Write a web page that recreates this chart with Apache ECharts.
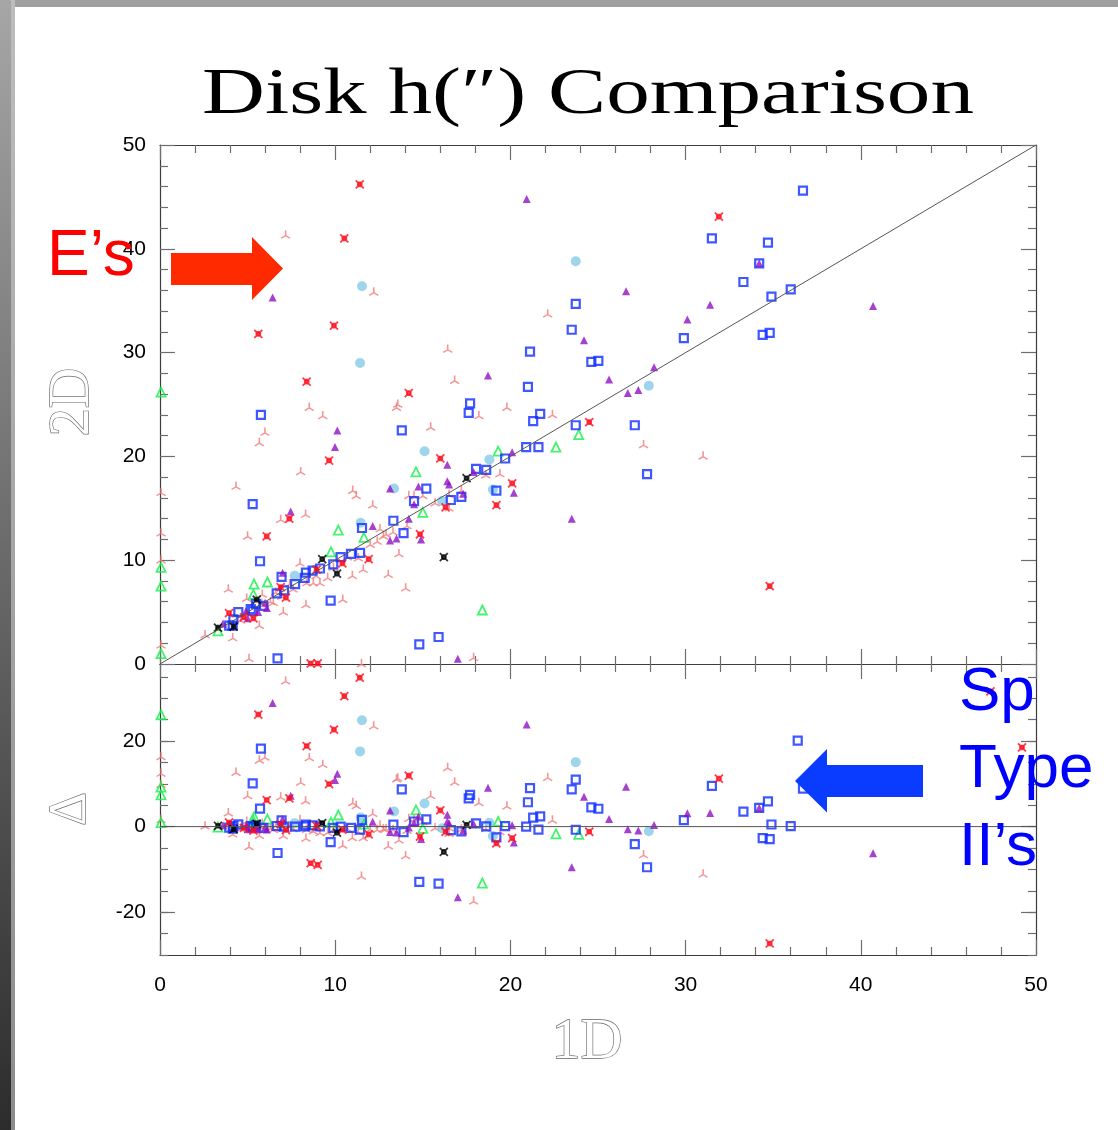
<!DOCTYPE html>
<html>
<head>
<meta charset="utf-8">
<style>
  html, body { margin: 0; padding: 0; background: #ffffff; }
  #chart { width: 1118px; height: 1130px; }
</style>
<script src="https://cdn.jsdelivr.net/npm/echarts@6/dist/echarts.min.js"></script>
</head>
<body>
<div id="chart"></div>
<script>
// ---- data: [1D scale length, 2D scale length] in arcsec, one array per sample ----
const pinkPts = [
  [7.17,41.4],[12.2,35.9],[8.52,24.8],[13.57,25.1],[13.5,24.8],[9.29,24.0],[5.99,22.4],[5.67,21.4],
  [8.03,18.6],[4.34,17.2],[0.06,16.6],[11.0,16.8],[11.2,16.3],[14.2,16.3],[12.14,15.4],[8.31,14.5],
  [6.89,14.0],[0.06,12.7],[5.0,12.4],[0.06,10.1],[13.64,10.7],[13.03,8.7],[14.02,7.4],[11.32,10.3],
  [11.6,9.2],[7.99,9.8],[8.37,7.9],[8.75,7.9],[9.13,7.9],[9.57,8.4],[10.98,8.6],[12.56,13.1],
  [12.75,12.4],[12.4,11.9],[3.9,7.3],[4.95,6.4],[5.84,6.8],[6.95,6.6],[6.47,6.0],[7.04,5.1],
  [8.33,5.8],[10.43,6.3],[5.67,3.8],[2.57,2.9],[4.15,2.6],[0.06,1.9],[5.08,0.6],[11.5,0.1],
  [16.42,30.4],[22.13,33.8],[16.82,27.4],[19.8,24.8],[18.2,24.0],[22.4,24.1],[15.45,22.9],[27.6,21.2],
  [31.0,20.1],[19.4,18.4],[14.5,16.3],[15.0,16.3],[16.5,16.4],[16.5,15.1],[14.1,13.4],[17.9,0.7],
  [4.6,4.3],[5.8,5.9],[6.3,6.1],[7.6,7.3],[8.9,8.6],[9.9,9.4],[10.7,10.4],[12.0,11.6],
  [12.9,12.6],[13.3,12.8],[15.7,15.6],[17.2,16.8],[18.6,18.3],[6.6,7.0],[7.4,7.8]
];
const skyPts = [
  [11.53,36.4],[11.42,29.0],[13.36,16.9],[11.45,13.6],[7.69,8.5],[23.73,38.8],[27.9,26.8],
  [15.1,20.5],[18.8,19.7],[19.0,16.8],[16.1,15.7]
];
const greenPts = [
  [0.06,26.2],[14.61,18.5],[10.18,12.9],[11.64,12.2],[9.76,10.8],[5.37,7.7],[6.13,7.9],[5.33,6.7],
  [3.31,3.2],[0.06,9.3],[0.06,7.5],[0.06,1.0],[23.9,22.1],[22.6,20.9],[19.3,20.5],[15.0,14.6],[18.4,5.2]
];
const bluePts = [
  [5.76,24.0],[13.8,22.5],[14.5,15.7],[5.29,15.4],[11.53,13.1],[13.32,13.8],[13.9,12.6],[10.31,10.3],
  [10.9,10.6],[11.42,10.7],[9.89,9.6],[9.13,9.2],[8.71,9.0],[8.33,8.8],[8.26,8.3],[7.71,7.7],
  [5.71,9.9],[6.94,8.4],[7.08,7.1],[6.66,6.8],[9.74,6.1],[5.48,5.8],[5.9,5.6],[5.18,5.3],
  [5.3,5.1],[4.47,5.0],[4.19,4.3],[3.95,3.7],[4.15,3.7],[6.71,0.55],[14.8,1.9],[15.9,2.6],
  [31.5,41.0],[23.73,34.7],[23.5,32.2],[29.9,31.4],[21.12,30.1],[24.62,29.1],[25.02,29.2],[21.0,26.7],
  [17.7,25.1],[17.62,24.2],[21.3,23.4],[21.7,24.1],[23.73,23.0],[27.1,23.0],[20.9,20.9],[21.6,20.9],
  [19.7,19.8],[18.04,18.8],[18.62,18.7],[15.2,16.9],[19.2,16.7],[16.6,15.8],[17.2,16.1],[27.8,18.3],
  [36.7,45.6],[34.7,40.6],[34.2,38.6],[33.3,36.8],[36.0,36.1],[34.9,35.4],[34.4,31.7],[34.8,31.9],
  [36.4,56.5]
];
const purplePts = [
  [6.43,35.3],[10.12,22.5],[9.99,20.9],[13.13,16.9],[14.75,17.1],[7.46,14.7],[12.14,13.3],[13.13,11.9],
  [13.5,12.1],[7.0,8.8],[6.0,5.9],[6.1,5.4],[5.6,5.0],[4.91,5.1],[5.0,4.4],[3.6,3.9],
  [20.93,44.8],[26.6,35.9],[31.4,34.6],[30.1,33.2],[24.2,31.2],[25.63,27.4],[18.72,27.8],[28.2,28.6],
  [26.7,26.1],[27.3,26.4],[20.1,20.4],[16.4,19.2],[17.9,18.5],[16.4,17.6],[16.5,17.3],[17.3,16.4],
  [20.2,16.5],[14.5,15.4],[23.5,14.0],[14.2,14.0],[14.9,12.0],[17.0,0.5],[34.2,38.6],[40.7,34.5]
];
const redPts = [
  [11.4,46.2],[10.52,41.0],[9.93,32.6],[5.61,31.8],[8.37,27.2],[14.2,26.1],[9.65,19.6],[7.38,14.0],
  [6.09,12.3],[14.84,12.5],[11.91,10.1],[10.41,9.7],[8.94,9.1],[6.89,7.4],[7.19,6.4],[3.94,4.9],
  [4.79,4.5],[5.33,4.4],[8.6,0.05],[9.0,0.05],[16.0,19.8],[20.1,17.4],[16.3,15.1],[19.2,15.3],
  [24.5,23.3],[31.9,43.1],[34.8,7.5],[47.4,79.0],[49.2,67.7]
];
const blackPts = [
  [9.26,10.1],[10.1,8.7],[5.52,6.2],[4.2,3.6],[3.31,3.5],[17.5,17.9],[16.2,10.3]
];

// axis ticks of the residual panel
const deltaTicks = [-20, 0, 20];
const deltaMinorTicks = [-30, -25, -20, -15, -10, -5, 0, 5, 10, 15, 20, 25, 30, 35];
// one-to-one reference line and zero-residual line
const unityLine = [[0, 0], [50, 50]];
const zeroLine = [[0, 0], [50, 0]];

// residual: 2D minus 1D, plotted against 1D
const toDelta = pts => pts.map(p => [p[0], +(p[1] - p[0]).toFixed(2)]);

const chart = echarts.init(document.getElementById('chart'), null, { renderer: 'canvas' });

const frameColor = '#3c3c3c';
const tickColor = '#6e6e6e';
const labelFont = { color: '#000', fontFamily: 'Liberation Sans', fontSize: 21 };

function xAxis(grid, pos, withLabels) {
  return {
    type: 'value', gridIndex: grid, position: pos, min: 0, max: 50, interval: 10,
    axisLine: { show: true, onZero: false, lineStyle: { color: frameColor, width: 1.2 } },
    axisTick: { show: true, inside: true, length: 15, lineStyle: { color: tickColor, width: 1.2 } },
    minorTick: { show: true, splitNumber: 5, length: 8, lineStyle: { color: tickColor, width: 1.2 } },
    splitLine: { show: false }, minorSplitLine: { show: false },
    axisLabel: Object.assign({ show: withLabels, margin: 20 }, labelFont)
  };
}
function topY(pos, withLabels) {
  return {
    type: 'value', gridIndex: 0, position: pos, min: 0, max: 50, interval: 10,
    axisLine: { show: true, onZero: false, lineStyle: { color: frameColor, width: 1.2 } },
    axisTick: { show: true, inside: true, length: 15, lineStyle: { color: tickColor, width: 1.2 } },
    minorTick: { show: true, splitNumber: 5, length: 8, lineStyle: { color: tickColor, width: 1.2 } },
    splitLine: { show: false }, minorSplitLine: { show: false },
    axisLabel: Object.assign({ show: withLabels, margin: 14, padding: [6, 0, 0, 0] }, labelFont)
  };
}
function deltaY(pos, major, withLabels) {
  return {
    type: 'value', gridIndex: 1, position: pos, min: -30, max: 38,
    axisLine: { show: major, onZero: false, lineStyle: { color: frameColor, width: 1.2 } },
    axisTick: {
      show: true, inside: true, length: major ? 15 : 8,
      customValues: major ? deltaTicks : deltaMinorTicks,
      lineStyle: { color: tickColor, width: 1.2 }
    },
    splitLine: { show: false },
    axisLabel: Object.assign({ show: withLabels, margin: 14, padding: [6, 0, 0, 0], customValues: deltaTicks }, labelFont)
  };
}

const tripod = 'path://M0,-10 L0,0 M0,0 L-8.66,5 M0,0 L8.66,5';
const crossBox = 'path://M0,0 L3,3 M10,0 L7,3 M0,10 L3,7 M10,10 L7,7 M2.6,2.6 L7.4,2.6 L7.4,7.4 L2.6,7.4 Z';

const groups = [
  { pts: pinkPts, symbol: tripod, size: [9, 8], style: { color: 'rgba(0,0,0,0)', borderColor: '#f07c7a', borderWidth: 1.5 } },
  { pts: skyPts, symbol: 'circle', size: 10, style: { color: '#86cbe8' } },
  { pts: greenPts, symbol: 'triangle', size: 9, style: { color: 'rgba(0,0,0,0)', borderColor: '#14f048', borderWidth: 1.8 } },
  { pts: bluePts, symbol: 'rect', size: 8, style: { color: 'rgba(0,0,0,0)', borderColor: '#0f2dff', borderWidth: 2.2 } },
  { pts: purplePts, symbol: 'triangle', size: 8, style: { color: '#9010c4' } },
  { pts: redPts, symbol: crossBox, size: 8, style: { color: '#ff0a1a', borderColor: '#ff0a1a', borderWidth: 1.8 } },
  { pts: blackPts, symbol: crossBox, size: 8, style: { color: '#000000', borderColor: '#000000', borderWidth: 1.8 } }
];

const series = [
  { type: 'line', xAxisIndex: 0, yAxisIndex: 0, data: unityLine, symbol: 'none', silent: true,
    lineStyle: { color: '#555', width: 1 } },
  { type: 'line', xAxisIndex: 2, yAxisIndex: 2, data: zeroLine, symbol: 'none', silent: true,
    lineStyle: { color: '#555', width: 1 } }
];
groups.forEach(g => {
  series.push({ type: 'scatter', xAxisIndex: 0, yAxisIndex: 0, data: g.pts, symbol: g.symbol,
    symbolSize: g.size, itemStyle: g.style, silent: true, emphasis: { disabled: true } });
  series.push({ type: 'scatter', xAxisIndex: 2, yAxisIndex: 2, data: toDelta(g.pts), symbol: g.symbol,
    symbolSize: g.size, itemStyle: g.style, silent: true, emphasis: { disabled: true } });
});

const outlineText = { fill: '#ffffff', stroke: '#666666', lineWidth: 1.3, fontFamily: 'Liberation Serif' };

chart.setOption({
  animation: false,
  backgroundColor: '#ffffff',
  grid: [
    { left: 160, top: 145, width: 876, height: 519 },
    { left: 160, top: 664, width: 876, height: 291 }
  ],
  xAxis: [xAxis(0, 'bottom', false), xAxis(0, 'top', false), xAxis(1, 'bottom', true), xAxis(1, 'top', false)],
  yAxis: [topY('left', true), topY('right', false), deltaY('left', true, true), deltaY('right', true, false),
          deltaY('left', false, false), deltaY('right', false, false)],
  series: series,
  graphic: [
    // window frame edges
    { type: 'rect', shape: { x: 0, y: 0, width: 1118, height: 7 }, style: { fill: '#a0a0a0' }, z: 1 },
    { type: 'rect', shape: { x: 0, y: 0, width: 11, height: 1130 }, z: 2,
      style: { fill: new echarts.graphic.LinearGradient(0, 0, 0, 1, [
        { offset: 0, color: '#a6a6a6' }, { offset: 1, color: '#2c2c2c' }]) } },
    { type: 'rect', shape: { x: 11, y: 0, width: 4, height: 1130 }, z: 2,
      style: { fill: new echarts.graphic.LinearGradient(0, 0, 0, 1, [
        { offset: 0, color: '#bdbdbd' }, { offset: 1, color: '#8c8c8c' }]) } },
    // title
    { type: 'text', x: 588, y: 96, scaleX: 1.32, z: 10,
      style: { text: 'Disk h(\u2033) Comparison', fontFamily: 'Liberation Serif', fontSize: 66,
        fill: '#000', align: 'center', verticalAlign: 'middle', textAlign: 'center', textVerticalAlign: 'middle' } },
    // axis names
    { type: 'text', x: 73, y: 402, rotation: Math.PI / 2, z: 10,
      style: Object.assign({ text: '2D', fontSize: 56, align: 'center', verticalAlign: 'middle',
        textAlign: 'center', textVerticalAlign: 'middle' }, outlineText) },
    { type: 'text', x: 71, y: 809, rotation: Math.PI / 2, z: 10,
      style: Object.assign({ text: '\u0394', fontSize: 52, align: 'center', verticalAlign: 'middle',
        textAlign: 'center', textVerticalAlign: 'middle' }, outlineText) },
    { type: 'text', x: 587, y: 1043, z: 10,
      style: Object.assign({ text: '1D', fontSize: 58, align: 'center', verticalAlign: 'middle',
        textAlign: 'center', textVerticalAlign: 'middle' }, outlineText) },
    // elliptical-galaxy callout
    { type: 'polygon', z: 20,
      shape: { points: [[171, 253], [252, 253], [252, 237], [283, 268.5], [252, 300], [252, 285], [171, 285]] },
      style: { fill: '#ff2a00' } },
    { type: 'text', x: 47, y: 257, z: 20,
      style: { text: 'E\u2019s', fontFamily: 'Liberation Sans', fontSize: 64, fill: '#ff0000',
        align: 'left', verticalAlign: 'middle', textAlign: 'left', textVerticalAlign: 'middle' } },
    // spiral type II callout
    { type: 'polygon', z: 20,
      shape: { points: [[923, 765], [827, 765], [827, 749], [795, 781], [827, 812.5], [827, 797], [923, 797]] },
      style: { fill: '#0a3cff' } },
    { type: 'text', x: 959, y: 693, z: 20,
      style: { text: 'Sp', fontFamily: 'Liberation Sans', fontSize: 62, fill: '#0000ff',
        align: 'left', verticalAlign: 'middle', textAlign: 'left', textVerticalAlign: 'middle' } },
    { type: 'text', x: 959, y: 770, z: 20,
      style: { text: 'Type', fontFamily: 'Liberation Sans', fontSize: 62, fill: '#0000ff',
        align: 'left', verticalAlign: 'middle', textAlign: 'left', textVerticalAlign: 'middle' } },
    { type: 'text', x: 959, y: 848, z: 20,
      style: { text: 'II\u2019s', fontFamily: 'Liberation Sans', fontSize: 62, fill: '#0000ff',
        align: 'left', verticalAlign: 'middle', textAlign: 'left', textVerticalAlign: 'middle' } }
  ]
});
</script>
</body>
</html>
